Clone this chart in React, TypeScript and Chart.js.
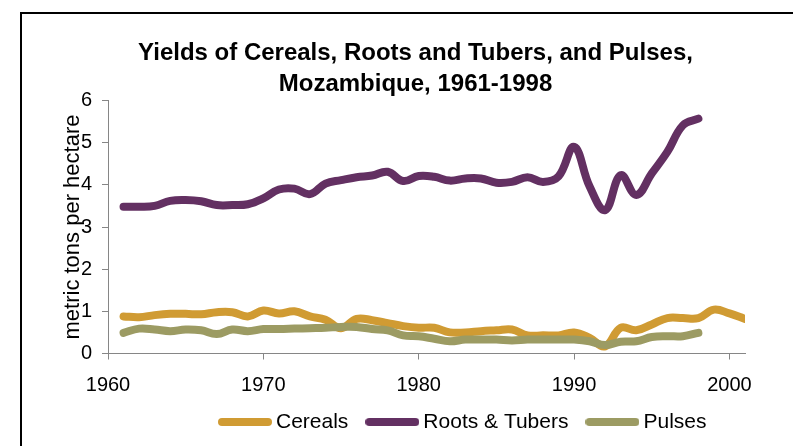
import React, { useEffect, useRef } from "react";
import { Chart, registerables } from "chart.js";

Chart.register(...registerables);

const TITLE_LINES = ["Yields of Cereals, Roots and Tubers, and Pulses,", "Mozambique, 1961-1998"];
const Y_TITLE = "metric tons per hectare";

const X_TICKS = [1960, 1970, 1980, 1990, 2000];
const Y_TICKS = [0, 1, 2, 3, 4, 5, 6];

const YEARS_CEREALS = [
  1961, 1962, 1963, 1964, 1965, 1966, 1967, 1968, 1969, 1970,
  1971, 1972, 1973, 1974, 1975, 1976, 1977, 1978, 1979, 1980,
  1981, 1982, 1983, 1984, 1985, 1986, 1987, 1988, 1989, 1990,
  1991, 1992, 1993, 1994, 1995, 1996, 1997, 1998, 1999, 2000, 2001,
];
const YEARS_OTHER = [
  1961, 1962, 1963, 1964, 1965, 1966, 1967, 1968, 1969, 1970,
  1971, 1972, 1973, 1974, 1975, 1976, 1977, 1978, 1979, 1980,
  1981, 1982, 1983, 1984, 1985, 1986, 1987, 1988, 1989, 1990,
  1991, 1992, 1993, 1994, 1995, 1996, 1997, 1998,
];

const CEREALS = [
  0.88, 0.86, 0.91, 0.94, 0.94, 0.93, 0.98, 0.98, 0.88, 1.02,
  0.95, 1.0, 0.88, 0.8, 0.6, 0.82, 0.79, 0.72, 0.65, 0.61,
  0.61, 0.5, 0.5, 0.53, 0.55, 0.57, 0.43, 0.43, 0.43, 0.5,
  0.37, 0.17, 0.61, 0.55, 0.69, 0.84, 0.84, 0.84, 1.04, 0.95, 0.82,
];
const ROOTS_TUBERS = [
  3.48, 3.48, 3.5, 3.62, 3.64, 3.61, 3.52, 3.52, 3.54, 3.68,
  3.89, 3.91, 3.78, 4.03, 4.11, 4.18, 4.22, 4.31, 4.09, 4.21,
  4.19, 4.1, 4.15, 4.15, 4.05, 4.07, 4.18, 4.07, 4.2, 4.9,
  3.96, 3.4, 4.23, 3.76, 4.27, 4.78, 5.41, 5.57,
];
const PULSES = [
  0.49, 0.59, 0.57, 0.53, 0.57, 0.55, 0.46, 0.57, 0.53, 0.58,
  0.58, 0.59, 0.6, 0.61, 0.63, 0.63, 0.58, 0.55, 0.43, 0.41,
  0.35, 0.29, 0.33, 0.33, 0.33, 0.31, 0.33, 0.33, 0.33, 0.33,
  0.29, 0.2, 0.28, 0.29, 0.39, 0.41, 0.41, 0.49,
];

const SERIES_NAMES = ["Cereals", "Roots & Tubers", "Pulses"];
const COLORS = ["#D09B33", "#633062", "#9C9B63"];

const FONT = "'Liberation Sans', Arial, sans-serif";
const TITLE_SHIFT = 43;
const LEGEND_SHIFT_X = 93;
const LEGEND_SHIFT_Y = -5.5;

const shiftPlugin = {
  id: "shiftBlocks",
  afterLayout(chart: any) {
    const t = chart.titleBlock;
    if (t) {
      t.left += TITLE_SHIFT;
      t.right += TITLE_SHIFT;
    }
    const l = chart.legend;
    if (l) {
      l.left += LEGEND_SHIFT_X;
      l.right += LEGEND_SHIFT_X;
      l.top += LEGEND_SHIFT_Y;
      l.bottom += LEGEND_SHIFT_Y;
    }
  },
};

function pts(xs: number[], ys: number[]) {
  return ys.map((y, i) => ({ x: xs[i], y }));
}

function legendSwatch(color: string) {
  const c = document.createElement("canvas");
  c.width = 54;
  c.height = 10;
  const ctx = c.getContext("2d");
  if (ctx) {
    ctx.strokeStyle = color;
    ctx.lineWidth = 8;
    ctx.lineCap = "round";
    ctx.beginPath();
    ctx.moveTo(4, 5);
    ctx.lineTo(50, 5);
    ctx.stroke();
  }
  return c;
}

export default function App() {
  const ref = useRef<HTMLCanvasElement | null>(null);

  useEffect(() => {
    if (!ref.current) return;
    const swatches = COLORS.map(legendSwatch);
    const lineCommon = {
      borderWidth: 8,
      pointRadius: 0,
      pointHoverRadius: 0,
      tension: 0.4,
      borderCapStyle: "round" as const,
      borderJoinStyle: "round" as const,
      fill: false,
    };
    const chart = new Chart(ref.current, {
      type: "line",
      data: {
        datasets: [
          { label: SERIES_NAMES[0], data: pts(YEARS_CEREALS, CEREALS), borderColor: COLORS[0], backgroundColor: COLORS[0], order: 2, ...lineCommon },
          { label: SERIES_NAMES[1], data: pts(YEARS_OTHER, ROOTS_TUBERS), borderColor: COLORS[1], backgroundColor: COLORS[1], order: 1, ...lineCommon },
          { label: SERIES_NAMES[2], data: pts(YEARS_OTHER, PULSES), borderColor: COLORS[2], backgroundColor: COLORS[2], order: 0, ...lineCommon },
        ],
      },
      options: {
        animation: false,
        responsive: false,
        maintainAspectRatio: false,
        events: [],
        layout: { padding: { left: 0, right: 49, top: 0, bottom: -2 } },
        plugins: {
          tooltip: { enabled: false },
          title: {
            display: true,
            text: TITLE_LINES,
            color: "#000",
            font: { family: FONT, size: 24, weight: "bold", lineHeight: "30.5px" },
            padding: { top: 38.5, bottom: 1 },
          },
          legend: {
            display: true,
            position: "bottom",
            labels: {
              usePointStyle: true,
              pointStyleWidth: 41,
              boxHeight: 8,
              padding: 23.5,
              color: "#000",
              font: { family: FONT, size: 21 },
              generateLabels: (c: any) =>
                c.data.datasets.map((ds: any, i: number) => ({
                  text: ds.label,
                  strokeStyle: ds.borderColor,
                  fillStyle: ds.borderColor,
                  fontColor: "#000",
                  lineWidth: 0,
                  pointStyle: swatches[i],
                  hidden: false,
                  datasetIndex: i,
                })),
            },
          },
        },
        scales: {
          x: {
            type: "linear",
            min: 1960,
            max: 2001,
            afterBuildTicks: (s: any) => {
              s.ticks = X_TICKS.map((v) => ({ value: v }));
            },
            afterFit: (s: any) => {
              s.height = 40;
            },
            ticks: {
              color: "#000",
              font: { family: FONT, size: 20 },
              padding: 14,
              maxRotation: 0,
              autoSkip: false,
              callback: (v: any) => String(v),
            },
            grid: { drawOnChartArea: false, drawTicks: true, tickLength: 6, color: "#868686" },
            border: { display: true, color: "#868686", width: 1 },
          },
          y: {
            type: "linear",
            min: 0,
            max: 6,
            afterBuildTicks: (s: any) => {
              s.ticks = Y_TICKS.map((v) => ({ value: v }));
            },
            afterFit: (s: any) => {
              s.width = 108;
            },
            ticks: {
              color: "#000",
              font: { family: FONT, size: 20 },
              padding: 10,
              callback: (v: any) => String(v),
            },
            title: {
              display: true,
              text: Y_TITLE,
              color: "#000",
              font: { family: FONT, size: 22 },
              padding: { top: 60, bottom: 0 },
            },
            grid: { drawOnChartArea: false, drawTicks: true, tickLength: 6, color: "#868686" },
            border: { display: true, color: "#868686", width: 1 },
          },
        },
      },
      plugins: [shiftPlugin],
    } as any);
    return () => chart.destroy();
  }, []);

  return (
    <div style={{ position: "fixed", left: 0, top: 0, width: 794, height: 446, overflow: "hidden", background: "#fff" }}>
      <div
        style={{
          position: "absolute",
          left: 20,
          top: 12,
          width: 773,
          height: 500,
          borderLeft: "2px solid #000",
          borderTop: "2px solid #000",
          boxSizing: "border-box",
        }}
      />
      <canvas ref={ref} width={794} height={446} style={{ position: "absolute", left: 0, top: 0, width: 794, height: 446 }} />
    </div>
  );
}
